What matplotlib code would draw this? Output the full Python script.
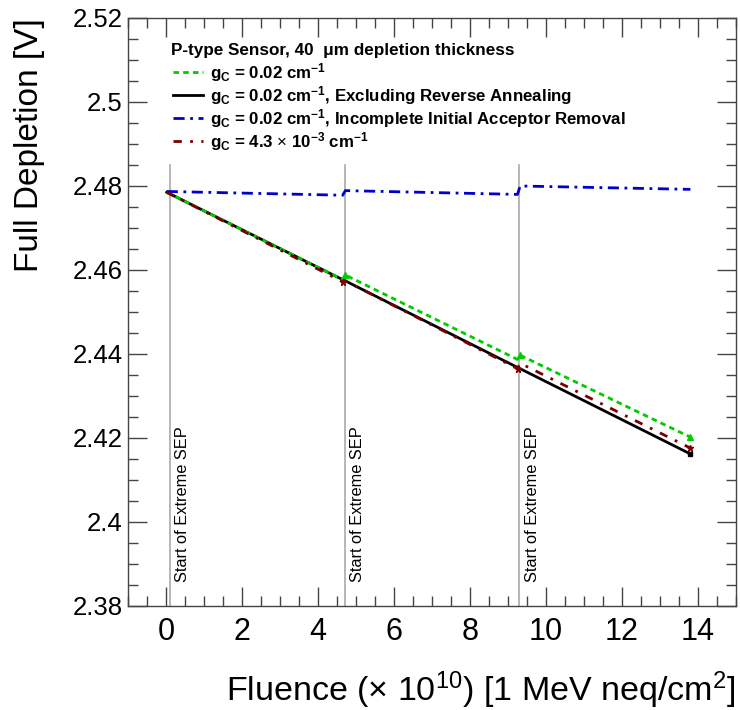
import matplotlib
matplotlib.use("Agg")
import matplotlib.pyplot as plt
from matplotlib.ticker import MultipleLocator
from matplotlib.lines import Line2D

plt.rcParams['font.family'] = ['Liberation Sans', 'DejaVu Sans']
plt.rcParams['mathtext.fontset'] = 'custom'
plt.rcParams['mathtext.rm'] = 'Liberation Sans'
plt.rcParams['mathtext.bf'] = 'Liberation Sans:bold'
plt.rcParams['mathtext.it'] = 'Liberation Sans:italic'
plt.rcParams['mathtext.sf'] = 'Liberation Sans'

# ---- data ----
fluence = [0.02, 4.65, 4.72, 9.25, 9.32, 13.8]
v_gc002 = [2.4785, 2.4577, 2.4588, 2.4387, 2.4397, 2.4202]
v_no_ra = [2.4785, 2.4577, 2.4574, 2.4368, 2.4365, 2.4162]
v_incomplete = [2.4787, 2.4778, 2.4789, 2.4780, 2.4800, 2.4792]
v_gc43 = [2.4785, 2.4572, 2.4574, 2.4365, 2.4378, 2.4176]
sep_starts = [0.1, 4.7, 9.3]
sep_label = "Start of Extreme SEP"
legend_title = "P-type Sensor, 40  \u03bcm depletion thickness"
labels = [r"$\mathbf{g_{C}}$ = 0.02 cm$^{\mathbf{-1}}$",
          r"$\mathbf{g_{C}}$ = 0.02 cm$^{\mathbf{-1}}$, Excluding Reverse Annealing",
          r"$\mathbf{g_{C}}$ = 0.02 cm$^{\mathbf{-1}}$, Incomplete Initial Acceptor Removal",
          r"$\mathbf{g_{C}}$ = 4.3 $\times$ 10$^{\mathbf{-3}}$ cm$^{\mathbf{-1}}$"]
xlim = (-1, 15)
ylim = (2.38, 2.52)

W, H = 740, 710
fig = plt.figure(figsize=(W/100, H/100), dpi=100)
AX_L, AX_R, AX_T, AX_B = 128, 736, 18, 606
ax = fig.add_axes([AX_L/W, 1-AX_B/H, (AX_R-AX_L)/W, (AX_B-AX_T)/H])

green = '#00cc00'
blue = '#0000cc'
dred = '#7a0000'
styles = [dict(color=green, lw=2, ls=(0, (2, 1.5))),
          dict(color='black', lw=2, ls='-'),
          dict(color=blue, lw=2, ls=(0, (4, 2, 1, 2))),
          dict(color=dred, lw=2, ls=(0, (3, 3, 1, 3)))]

for xs in sep_starts:
    ax.plot([xs, xs], [ylim[0], 2.4851], color='#aaaaaa', lw=1.2, zorder=1)
    ax.text(xs + 0.34, 2.3857, sep_label, rotation=90, ha='center', va='bottom',
            fontsize=11.8, color='black')

ax.plot(fluence, v_gc002, zorder=3, **styles[0])
ax.plot(fluence, v_no_ra, zorder=2, **styles[1])
ax.plot(fluence, v_incomplete, zorder=3, **styles[2])
ax.plot(fluence, v_gc43, zorder=3, **styles[3])

# jump markers
ax.plot([fluence[i] for i in (2, 4, 5)], [v_gc002[i] for i in (2, 4, 5)],
        ls='none', marker='^', ms=4, color=green, zorder=4)
ax.plot([fluence[i] for i in (1, 3, 5)], [v_gc43[i] for i in (1, 3, 5)],
        ls='none', marker='*', ms=5, color=dred, zorder=4)
ax.plot([fluence[5]], [v_no_ra[5]], ls='none', marker='s', ms=2.5, color='black', zorder=4)

ax.set_xlim(*xlim)
ax.set_ylim(*ylim)
ax.xaxis.set_major_locator(MultipleLocator(2))
ax.xaxis.set_minor_locator(MultipleLocator(0.5))
ax.yaxis.set_minor_locator(MultipleLocator(0.005))
ax.set_yticks([2.38, 2.4, 2.42, 2.44, 2.46, 2.48, 2.5, 2.52])
ax.set_yticklabels(['2.38', '2.4', '2.42', '2.44', '2.46', '2.48', '2.5', '2.52'])
ax.tick_params(which='both', direction='in', top=True, right=True, width=1, color='#444444')
ax.tick_params(which='major', length=14)
ax.tick_params(which='minor', length=7)
ax.tick_params(axis='x', labelsize=22, pad=8)
ax.tick_params(axis='y', labelsize=18.5, pad=4)
for s in ax.spines.values():
    s.set_linewidth(1)
    s.set_color('#444444')

fig.text(30/W, 1-18/H, "Full Depletion [V]", rotation=90, ha='center', va='top', fontsize=24)
fig.text(735/W, 1-690/H, r"Fluence ($\times$ 10$^{10}$) [1 MeV neq/cm$^{2}$]",
         ha='right', va='center', fontsize=24.5)

# legend (ROOT style, manual)
fig.text(171/W, 1-50/H, legend_title, ha='left', va='center', fontsize=12.3, fontweight='bold')
row_y = [72, 95, 118, 141]
for st, lab, yy in zip(styles, labels, row_y):
    fig.add_artist(Line2D([173/W, 203/W], [1-yy/H, 1-yy/H], transform=fig.transFigure, **st))
    fig.text(210/W, 1-(yy+6)/H, lab, ha='left', va='baseline', fontsize=12.2, fontweight='bold')

fig.savefig("out.png", dpi=100)
